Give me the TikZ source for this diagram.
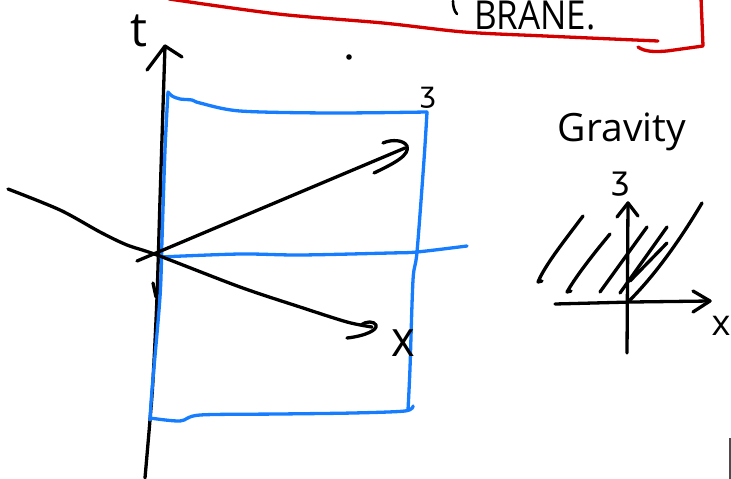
\documentclass[tikz,border=0pt]{standalone}
\usepackage{fontspec}
\setmainfont{Open Sans}
\newfontfamily\glyphfont{DejaVu Sans}
\definecolor{penblue}{RGB}{22,125,255}
\definecolor{penred}{RGB}{212,0,0}
\begin{document}
\begin{tikzpicture}[x=1pt,y=-1pt,
  pen/.style={line width=3.3pt,line cap=round,line join=round},
  ink/.style={pen,black},
  blueink/.style={pen,penblue},
  redink/.style={pen,penred},
  hand/.style={inner sep=0pt,text=black}]
\useasboundingbox (0,0) rectangle (731,479);
% red frame
\draw[redink] plot[smooth] coordinates {(169,-1) (278,14) (383,23) (464,32) (545,36) (658,41)};
\draw[redink] (638,47) .. controls (645,52) and (655,52) .. (667,51) -- (703,46) -- (701,-2);
\draw[ink,line width=2.6pt] (453,1) .. controls (453,6) and (454,11) .. (457,14);
\node[hand,anchor=base west,font=\fontsize{38}{38}\selectfont,xscale=0.92,yscale=1.05] (brane) at (474,29) {BRANE.};
% t axis
\draw[ink] plot[smooth] coordinates {(145,478) (150,420) (153,380) (157,297) (160,200) (165,46)};
\draw[ink] (147,70) -- (165,46) -- (182,57);
\node[hand,font=\fontsize{48}{48}\selectfont] (t) at (139,31) {t};
\fill (349,57) circle (2.8pt);
% blue rectangle
\draw[blueink] plot[smooth] coordinates {(168,92) (165,150) (162,240) (160,297) (152,390) (150,420)};
\draw[blueink] plot[smooth] coordinates {(168,92) (172,96) (180,99) (192,100) (200,103) (240,111) (330,113) (427,112)};
\draw[blueink] plot[smooth] coordinates {(427,112) (424,160) (417,252) (413,280) (410,368) (408,410)};
\draw[blueink] plot[smooth] coordinates {(150,418) (180,421) (200,415) (280,414) (353,413) (405,411) (413,406)};
\draw[blueink] plot[smooth] coordinates {(160,257) (240,254) (300,255) (390,253) (417,252) (467,246)};
% x and z axes
\draw[ink] plot[smooth] coordinates {(8,189) (60,210) (100,232) (127,245) (157,255) (240,287) (300,307) (347,322) (372,327)};
\draw[ink] (347,338) .. controls (365,336) and (378,330) .. (376,325) .. controls (374,321) and (366,321) .. (361,325);
\draw[ink] (137,261) -- (405,148);
\draw[ink] (374,173) .. controls (395,163) and (410,155) .. (407,146) .. controls (404,140) and (392,139) .. (383,143);
\draw[ink] (153,283) -- (156,297);
\node[hand,font=\glyphfont\fontsize{28}{28}\selectfont] (zmain) at (428,98) {ʒ};
\node[hand,font=\fontsize{50}{50}\selectfont,xscale=0.9] (xmain) at (403,343) {x};
% gravity
\node[hand,font=\fontsize{39}{39}\selectfont] (grav) at (622,132) {Gravity};
\node[hand,font=\glyphfont\fontsize{32}{32}\selectfont] (zgrav) at (621,184) {ʒ};
\node[hand,font=\fontsize{36}{36}\selectfont] (xgrav) at (721,326) {x};
\draw[ink] (627,353) -- (628,203);
\draw[ink] (617,217) -- (628,203) -- (638,216);
\draw[ink] (555,304) -- (632,302) -- (710,301);
\draw[ink] (693,291) -- (710,301) -- (693,312);
\draw[ink] (583,216) .. controls (565,240) and (545,265) .. (538,282) -- (542,281);
\draw[ink] (610,234) .. controls (590,258) and (575,278) .. (567,292) -- (571,291);
\draw[ink] (647,227) -- (600,292);
\draw[ink] (667,227) -- (620,293);
\draw[ink] (667,243) -- (630,281);
\draw[ink] (702,203) .. controls (680,240) and (655,275) .. (630,300);
% edge
\draw[line width=1.5pt,black!70] (730,438) -- (730,479);
\end{tikzpicture}
\end{document}
